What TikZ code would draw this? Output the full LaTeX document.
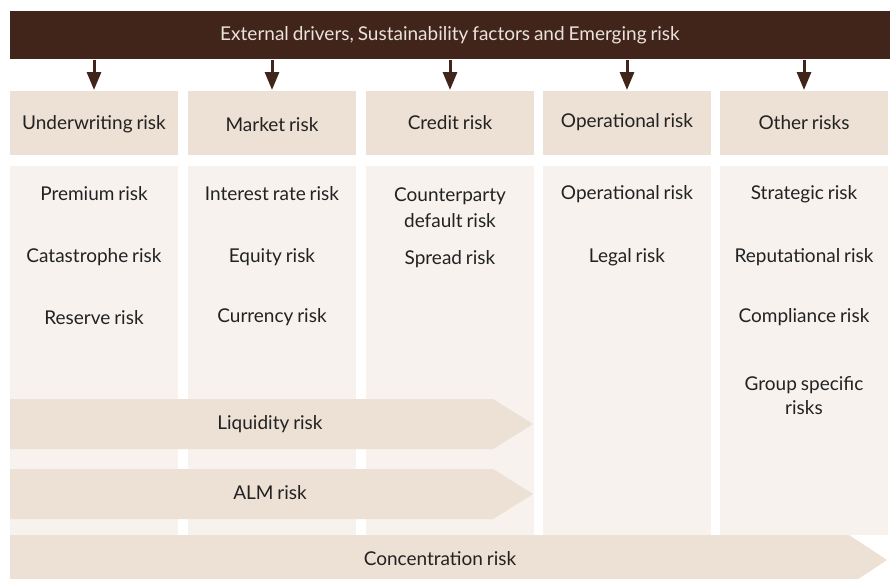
\documentclass[tikz,border=0pt]{standalone}
\usepackage{fontspec}
\usetikzlibrary{arrows.meta}
\setmainfont[WordSpace=0.8]{Lato}
\definecolor{barbrown}{HTML}{42251A}
\definecolor{headfill}{HTML}{EDE0D5}
\definecolor{bodyfill}{HTML}{F7F2EE}
\definecolor{txt}{HTML}{222222}
\definecolor{bartxt}{HTML}{EAE2DC}
\begin{document}
\begin{tikzpicture}[x=1pt,y=-1pt,
  lbl/.style={font=\fontsize{19}{22}\selectfont, text=txt, align=center, inner sep=0pt, yshift=-1.5pt},
  headbox/.style={fill=headfill, draw=none},
  bodybox/.style={fill=bodyfill, draw=none},
  bandarrow/.style={fill=headfill, draw=none},
  downarrow/.style={draw=barbrown, line width=3pt, -{Triangle[width=14pt,length=18pt]}}
]
\useasboundingbox (0,0) rectangle (893,578);
\fill[white] (0,0) rectangle (893,578);
\begin{scope}
\clip (0,0) rectangle (893,578);
% top bar
\fill[barbrown] (10,11) rectangle (890,59);
\node[lbl, text=bartxt] (top) at (450,34) {External drivers, Sustainability factors and Emerging risk};
% columns
\foreach \i/\xl in {1/10,2/188,3/366,4/543,5/720}{
  \fill[headbox] (\xl,91) rectangle ++(168,64);
  \fill[bodybox] (\xl,166) rectangle ++(168,369);
  \coordinate (s\i) at (\xl+84,60);
  \coordinate (e\i) at (\xl+84,90);
  \draw[downarrow] (s\i) -- (e\i);
}
% headers
\node[lbl] (h1) at (94,123) {Underwriting risk};
\node[lbl] (h2) at (272,123) {Market risk};
\node[lbl] (h3) at (450,121) {Credit risk};
\node[lbl] (h4) at (627,121) {Operational risk};
\node[lbl] (h5) at (804,121) {Other risks};
% items
\node[lbl] (a1) at (94,192) {Premium risk};
\node[lbl] (a2) at (94,256) {Catastrophe risk};
\node[lbl] (a3) at (94,316) {Reserve risk};
\node[lbl] (b1) at (272,192) {Interest rate risk};
\node[lbl] (b2) at (272,256) {Equity risk};
\node[lbl] (b3) at (272,316) {Currency risk};
\node[lbl, font=\fontsize{19}{26}\selectfont] (c1) at (450,206) {Counterparty\\default risk};
\node[lbl] (c2) at (450,258) {Spread risk};
\node[lbl] (d1) at (627,193) {Operational risk};
\node[lbl] (d2) at (627,256) {Legal risk};
\node[lbl] (f1) at (804,193) {Strategic risk};
\node[lbl] (f2) at (804,256) {Reputational risk};
\node[lbl] (f3) at (804,316) {Compliance risk};
\node[lbl, font=\fontsize{19}{24}\selectfont] (f4) at (804,394) {Group specific\\risks};
% band arrows
\fill[bandarrow] (10,399) -- (493,399) -- (533,424) -- (493,449) -- (10,449) -- cycle;
\node[lbl] (liq) at (270,423) {Liquidity risk};
\fill[bandarrow] (10,469) -- (493,469) -- (533,494) -- (493,519) -- (10,519) -- cycle;
\node[lbl] (alm) at (270,491) {ALM risk};
\fill[bandarrow] (10,535) -- (849,535) -- (887,560) -- (849,585) -- (10,585) -- cycle;
\node[lbl] (con) at (440,557) {Concentration risk};
\end{scope}
\end{tikzpicture}
\end{document}
